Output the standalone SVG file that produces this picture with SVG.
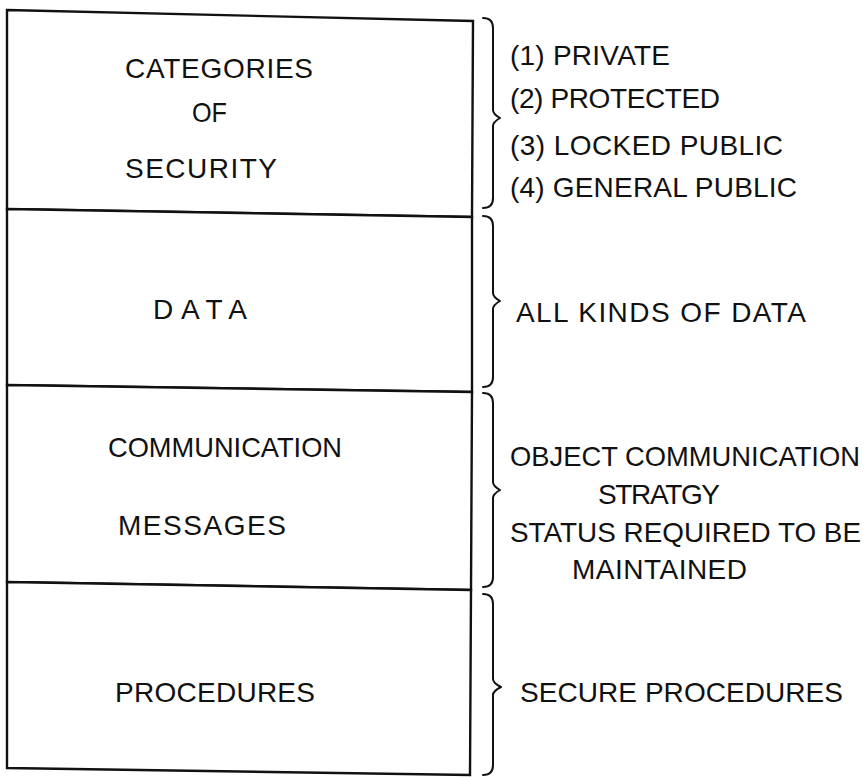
<svg xmlns="http://www.w3.org/2000/svg" width="868" height="777" viewBox="0 0 868 777">
  <style>
    .cell { fill: #ffffff; stroke: #111111; stroke-width: 2.4; stroke-linejoin: miter; }
    .brace { fill: none; stroke: #111111; stroke-width: 2; stroke-linecap: round; stroke-linejoin: round; }
    text { font-family: "Liberation Sans", Arial, sans-serif; font-size: 28px; fill: #111111; }
  </style>
  <rect x="0" y="0" width="868" height="777" fill="#ffffff"/>

  <!-- stacked compartments of the object -->
  <g id="row-security">
    <polygon class="cell" points="7,10 473,21 472,217 7,209"/>
    <text x="125" y="78" textLength="188" lengthAdjust="spacing">CATEGORIES</text>
    <text x="192" y="122" textLength="35" lengthAdjust="spacingAndGlyphs">OF</text>
    <text x="125" y="178" textLength="152" lengthAdjust="spacing">SECURITY</text>
  </g>
  <g id="row-data">
    <polygon class="cell" points="7,209 472,217 472,392 7,385"/>
    <text x="153" y="319" textLength="94" lengthAdjust="spacing">DATA</text>
  </g>
  <g id="row-messages">
    <polygon class="cell" points="7,385 472,392 471,590 7,582"/>
    <text x="108" y="457" textLength="234" lengthAdjust="spacingAndGlyphs">COMMUNICATION</text>
    <text x="118" y="535" textLength="168" lengthAdjust="spacing">MESSAGES</text>
  </g>
  <g id="row-procedures">
    <polygon class="cell" points="7,582 471,590 470,775 7,768"/>
    <text x="115" y="702" textLength="200" lengthAdjust="spacing">PROCEDURES</text>
  </g>

  <!-- descriptions to the right -->
  <g id="note-security">
    <text x="510" y="65" textLength="160" lengthAdjust="spacing">(1) PRIVATE</text>
    <text x="510" y="108" textLength="210" lengthAdjust="spacing">(2) PROTECTED</text>
    <text x="510" y="155" textLength="273" lengthAdjust="spacing">(3) LOCKED PUBLIC</text>
    <text x="510" y="197" textLength="287" lengthAdjust="spacing">(4) GENERAL PUBLIC</text>
  </g>
  <g id="note-data">
    <text x="516" y="322" textLength="290" lengthAdjust="spacing">ALL KINDS OF DATA</text>
  </g>
  <g id="note-messages">
    <text x="510" y="466" textLength="350" lengthAdjust="spacingAndGlyphs">OBJECT COMMUNICATION</text>
    <text x="598" y="504" textLength="122" lengthAdjust="spacing">STRATGY</text>
    <text x="510" y="542" textLength="351" lengthAdjust="spacingAndGlyphs">STATUS REQUIRED TO BE</text>
    <text x="572" y="579" textLength="175" lengthAdjust="spacing">MAINTAINED</text>
  </g>
  <g id="note-procedures">
    <text x="520" y="702" textLength="323" lengthAdjust="spacing">SECURE PROCEDURES</text>
  </g>

  <!-- braces linking each compartment to its description -->
  <g id="connectors">
    <path class="brace" d="M483 18 Q493 18 493 28 L493 110 Q493 114 500 118 Q493 122 493 126 L493 198 Q493 208 483 208"/>
    <path class="brace" d="M483 216 Q493 216 493 226 L493 293 Q493 297 500 301 Q493 305 493 309 L493 377 Q493 387 483 387"/>
    <path class="brace" d="M483 393 Q493 393 493 403 L493 482 Q493 486 500 490 Q493 494 493 498 L493 577 Q493 587 483 587"/>
    <path class="brace" d="M483 594 Q493 594 493 604 L493 679 Q493 683 501 687 Q493 691 493 695 L493 765 Q493 775 483 775"/>
  </g>
</svg>
